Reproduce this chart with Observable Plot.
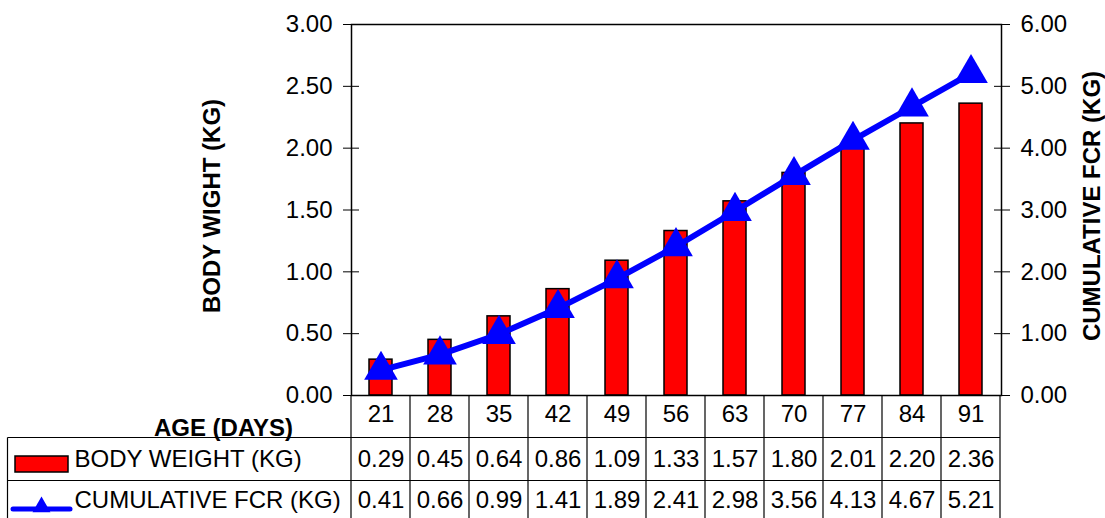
<!DOCTYPE html>
<html><head><meta charset="utf-8">
<script src="https://cdn.jsdelivr.net/npm/d3@7"></script>
<script src="https://cdn.jsdelivr.net/npm/@observablehq/plot@0.6"></script>
<style>body{margin:0;background:#fff} svg{display:block}</style>
</head><body><div id="chart"></div>
<script>
const ages = [21, 28, 35, 42, 49, 56, 63, 70, 77, 84, 91];
const bodyWeight = [0.29, 0.45, 0.64, 0.86, 1.09, 1.33, 1.57, 1.80, 2.01, 2.20, 2.36];
const cumulativeFcr = [0.41, 0.66, 0.99, 1.41, 1.89, 2.41, 2.98, 3.56, 4.13, 4.67, 5.21];
const leftTicks = [0, 0.5, 1, 1.5, 2, 2.5, 3];
const rightTicks = [0, 1, 2, 3, 4, 5, 6];
const leftTitle = "BODY WIGHT (KG)";
const rightTitle = "CUMULATIVE FCR (KG)";
const xTitle = "AGE (DAYS)";
const seriesNames = ["BODY WEIGHT (KG)", "CUMULATIVE FCR (KG)"];

const data = ages.map((a, i) => ({age: a, bw: bodyWeight[i], fcr: cumulativeFcr[i]}));
const ratio = 3 / 6; // right axis (0–6) mapped onto left axis (0–3)
const font = "'Liberation Sans', Arial, sans-serif";

const chart = Plot.plot({
  width: 1105, height: 518,
  marginLeft: 351, marginRight: 104, marginTop: 24, marginBottom: 123,
  style: {fontFamily: font, fontSize: "24px", color: "#000", background: "#fff", overflow: "visible"},
  x: {type: "band", domain: ages, paddingInner: 0.61, paddingOuter: 0.305, axis: null},
  y: {domain: [0, 3], axis: null},
  marks: [
    Plot.barY(data, {x: "age", y: "bw", fill: "#ff0000", stroke: "#000", strokeWidth: 1.5}),
    Plot.frame({stroke: "#000", strokeWidth: 1.5}),
    Plot.axisY(leftTicks, {anchor: "left", label: null, tickSize: 16, dx: 8, tickPadding: 11, tickFormat: d => d.toFixed(2)}),
    Plot.axisY(rightTicks.map(d => d * ratio), {anchor: "right", label: null, tickSize: 16, dx: -8, tickPadding: 11, tickFormat: d => (d / ratio).toFixed(2)}),
    Plot.line(data, {x: "age", y: d => d.fcr * ratio, stroke: "#0000ff", strokeWidth: 6}),
    Plot.dot(data, {x: "age", y: d => d.fcr * ratio, symbol: "triangle", r: 12.5, fill: "#0000ff", stroke: null}),
    Plot.text([leftTitle], {frameAnchor: "left", textAnchor: "middle", text: d => d, rotate: -90, dx: -139, dy: -4, fontWeight: "bold"}),
    Plot.text([rightTitle], {frameAnchor: "right", textAnchor: "middle", text: d => d, rotate: -90, dx: 91, dy: -4, fontWeight: "bold"}),
    Plot.text([xTitle], {frameAnchor: "bottom-left", textAnchor: "middle", text: d => d, dx: -128, dy: 40, fontWeight: "bold"}),
    Plot.text(data, {x: "age", text: d => String(d.age), frameAnchor: "bottom", dy: 26}),
    Plot.text(data, {x: "age", text: d => d.bw.toFixed(2), frameAnchor: "bottom", dy: 71}),
    Plot.text(data, {x: "age", text: d => d.fcr.toFixed(2), frameAnchor: "bottom", dy: 112}),
    Plot.text([seriesNames[0]], {frameAnchor: "bottom-left", text: d => d, textAnchor: "start", dx: -277, dy: 71}),
    Plot.text([seriesNames[1]], {frameAnchor: "bottom-left", text: d => d, textAnchor: "start", dx: -277, dy: 112})
  ]
});
document.getElementById("chart").appendChild(chart);

// data-table grid and legend swatches, positioned from Plot's own x scale
const xs = chart.scale("x");
const step = xs.step, bwid = xs.bandwidth;
const edges = ages.map(a => xs.apply(a) + bwid / 2 - step / 2);
edges.push(edges[edges.length - 1] + step);
const svg = d3.select(chart);
const grid = svg.append("g").attr("stroke", "#000").attr("stroke-width", 1.2);
const yAxis0 = 395, row1 = 437.5, row2 = 480.5, bottom = 518, tableLeft = 7.5;
edges.forEach(e => grid.append("line").attr("x1", e).attr("x2", e).attr("y1", yAxis0).attr("y2", bottom));
grid.append("line").attr("x1", tableLeft).attr("x2", tableLeft).attr("y1", row1).attr("y2", bottom);
[row1, row2].forEach(r => grid.append("line").attr("x1", tableLeft).attr("x2", edges[edges.length - 1]).attr("y1", r).attr("y2", r));

const lg = svg.append("g");
lg.append("rect").attr("x", 15).attr("y", 456).attr("width", 53).attr("height", 16)
  .attr("fill", "#ff0000").attr("stroke", "#000").attr("stroke-width", 1.5);
lg.append("line").attr("x1", 13).attr("x2", 70).attr("y1", 509).attr("y2", 509)
  .attr("stroke", "#0000ff").attr("stroke-width", 5).attr("stroke-linecap", "round");
lg.append("path").attr("transform", "translate(41.5,507)")
  .attr("d", d3.symbol(d3.symbolTriangle, 140)()).attr("fill", "#0000ff");
</script>
</body></html>
